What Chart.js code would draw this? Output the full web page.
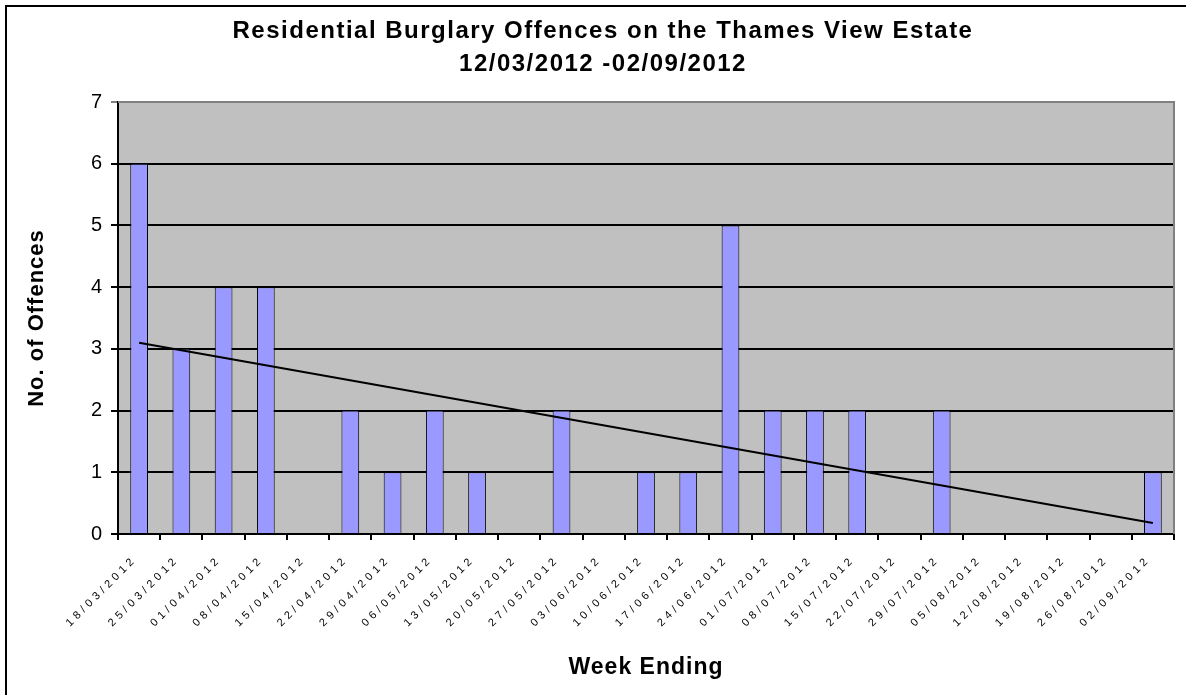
<!DOCTYPE html>
<html>
<head>
<meta charset="utf-8">
<script src="https://cdn.jsdelivr.net/npm/chart.js@4.4.0/dist/chart.umd.min.js"></script>
<style>
  html, body { margin: 0; padding: 0; background: #fff; overflow: hidden; }
  #wrap { position: relative; width: 1186px; height: 695px; }
  #frame { position: absolute; left: 5px; top: 5px; width: 2000px; height: 2000px;
           border-left: 2px solid #000; border-top: 2px solid #000; pointer-events: none; }
  canvas { position: absolute; left: 0; top: 0; }
</style>
</head>
<body>
<div id="wrap">
  <canvas id="burglaryChart" width="1186" height="695"></canvas>
  <div id="frame"></div>
</div>
<script>
// Semanas (fecha de fin de semana)
const weeks = [
  '18/03/2012', '25/03/2012', '01/04/2012', '08/04/2012', '15/04/2012',
  '22/04/2012', '29/04/2012', '06/05/2012', '13/05/2012', '20/05/2012',
  '27/05/2012', '03/06/2012', '10/06/2012', '17/06/2012', '24/06/2012',
  '01/07/2012', '08/07/2012', '15/07/2012', '22/07/2012', '29/07/2012',
  '05/08/2012', '12/08/2012', '19/08/2012', '26/08/2012', '02/09/2012'
];
// Número de delitos por semana
const offences = [6, 3, 4, 4, 0, 2, 1, 2, 1, 0, 2, 0, 1, 1, 5, 2, 2, 2, 0, 2, 0, 0, 0, 0, 1];
// Línea de tendencia: valor al inicio y al final
const trendEnds = [3.1, 0.18];
const yTicks = [0, 1, 2, 3, 4, 5, 6, 7];

const trendData = weeks.map((w, i) =>
  i === 0 ? trendEnds[0] : (i === weeks.length - 1 ? trendEnds[1] : null));

// Fondo gris del área de la gráfica y borde superior/derecho
const plotBackground = {
  id: 'plotBackground',
  beforeDraw(chart) {
    const { ctx, chartArea: a } = chart;
    ctx.save();
    ctx.fillStyle = '#C0C0C0';
    ctx.fillRect(a.left, a.top, a.right - a.left, a.bottom - a.top);
    ctx.restore();
  },
  afterDatasetsDraw(chart) {
    const { ctx, chartArea: a } = chart;
    ctx.save();
    ctx.strokeStyle = '#808080';
    ctx.lineWidth = 2;
    ctx.beginPath();
    ctx.moveTo(a.left, a.top);
    ctx.lineTo(a.right, a.top);
    ctx.lineTo(a.right, a.bottom);
    ctx.stroke();
    ctx.restore();
  }
};

const ctx = document.getElementById('burglaryChart').getContext('2d');

// Texto espaciado como en la imagen original (estilo Excel), según el tamaño de letra
const spacingBySize = { 24: '1.5px', 23: '1px', 22: '1px', 11: '4px' };
const rawFillText = ctx.fillText;
ctx.fillText = function (...args) {
  const m = /(\d+)px/.exec(this.font);
  const sp = m && String(args[0]).length > 1 ? spacingBySize[m[1]] : null;
  this.letterSpacing = sp || '0px';
  return rawFillText.apply(this, args);
};

const burglaryChart = new Chart(ctx, {
  data: {
    labels: weeks,
    datasets: [
      {
        type: 'line',
        label: 'Trend',
        data: trendData,
        spanGaps: true,
        borderColor: '#000',
        borderWidth: 2,
        pointRadius: 0,
        order: 0
      },
      {
        type: 'bar',
        label: 'Offences',
        data: offences,
        backgroundColor: '#9999FF',
        borderColor: '#000',
        borderWidth: 1,
        barPercentage: 0.42,
        categoryPercentage: 1.0,
        order: 1
      }
    ]
  },
  options: {
    responsive: false,
    animation: false,
    layout: { padding: { left: 32, right: 12, top: 0, bottom: 0 } },
    plugins: {
      legend: { display: false },
      tooltip: { enabled: false },
      title: {
        display: true,
        text: ['Residential Burglary Offences on the Thames View Estate', '12/03/2012 -02/09/2012'],
        color: '#000',
        font: { family: 'Liberation Sans', size: 24, weight: 'bold', lineHeight: 1.375 },
        padding: { top: 15, bottom: 21 }
      }
    },
    scales: {
      x: {
        grid: {
          offset: true,
          drawOnChartArea: false,
          drawTicks: true,
          tickLength: 6,
          color: '#000',
          lineWidth: 2
        },
        border: { color: '#000', width: 2 },
        ticks: {
          color: '#000',
          autoSkip: false,
          maxRotation: 45,
          minRotation: 45,
          padding: 13,
          labelOffset: -4,
          font: { family: 'Liberation Sans', size: 11 }
        },
        title: {
          display: true,
          text: 'Week Ending',
          color: '#000',
          font: { family: 'Liberation Sans', size: 23, weight: 'bold' },
          padding: { top: 0, bottom: 14 }
        },
        afterFit(scale) { scale.height = 161; }
      },
      y: {
        min: 0,
        max: 7,
        afterBuildTicks(scale) { scale.ticks = yTicks.map(v => ({ value: v })); },
        grid: {
          color: c => (c.tick && c.tick.value === 7 ? '#808080' : '#000'),
          lineWidth: 2,
          tickLength: 7,
          drawTicks: true
        },
        border: { color: '#000', width: 2 },
        ticks: {
          color: '#000',
          padding: 9,
          font: { family: 'Liberation Sans', size: 20 }
        },
        title: {
          display: true,
          text: 'No. of Offences',
          color: '#000',
          font: { family: 'Liberation Sans', size: 22, weight: 'bold' },
          padding: { top: -8, bottom: 0 }
        },
        afterFit(scale) { scale.width = 86; }
      }
    }
  },
  plugins: [plotBackground]
});
</script>
</body>
</html>
